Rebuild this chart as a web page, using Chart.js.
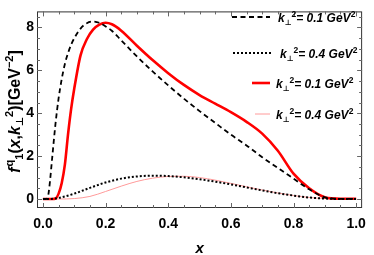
<!DOCTYPE html>
<html lang="en">
<head>
<meta charset="UTF-8">
<title>f1 TMD</title>
<script src="https://cdn.jsdelivr.net/npm/chart.js"></script>
<style>
  body { margin: 0; background: #fff; }
  #wrap { width: 374px; height: 255px; }
</style>
</head>
<body>
<div id="wrap"><canvas id="chart"></canvas></div>
<script>
// k_perp^2 = 0.1 GeV^2 curves
const xFine = [0, 0.01, 0.015, 0.02, 0.03, 0.04, 0.05, 0.06, 0.07, 0.08, 0.09, 0.1, 0.12, 0.14, 0.16, 0.18, 0.2, 0.22, 0.25, 0.3, 0.35, 0.4, 0.45, 0.5, 0.55, 0.6, 0.65, 0.7, 0.75, 0.8, 0.85, 0.9, 0.95, 1.0];
const dashedK01 = [0, 0, 0.05, 0.5, 2.0, 3.5, 4.7, 5.6, 6.3, 6.8, 7.2, 7.5, 7.95, 8.2, 8.28, 8.22, 8.05, 7.85, 7.4, 6.65, 5.95, 5.3, 4.68, 4.1, 3.55, 3.0, 2.5, 1.95, 1.45, 0.95, 0.45, 0.08, 0.01, 0.01];
const redK01 = [0, 0, 0, 0, 0, 0.02, 0.25, 0.75, 1.6, 3.0, 4.2, 5.15, 6.7, 7.45, 7.9, 8.13, 8.22, 8.15, 7.85, 7.15, 6.48, 5.87, 5.32, 4.85, 4.45, 4.05, 3.6, 3.05, 2.25, 1.18, 0.5, 0.08, 0.01, 0.01];

// k_perp^2 = 0.4 GeV^2 curves
const xCoarse = [0, 0.02, 0.05, 0.1, 0.15, 0.2, 0.25, 0.3, 0.35, 0.4, 0.45, 0.5, 0.55, 0.6, 0.65, 0.7, 0.75, 0.8, 0.85, 0.9, 0.95, 1.0];
const dottedK04 = [0, 0, 0.05, 0.25, 0.52, 0.77, 0.95, 1.05, 1.09, 1.07, 1.01, 0.92, 0.81, 0.68, 0.54, 0.4, 0.27, 0.16, 0.07, 0.02, 0, 0];
const pinkK04 = [0, 0, 0, 0.02, 0.12, 0.35, 0.6, 0.82, 0.97, 1.05, 1.06, 1.0, 0.88, 0.73, 0.57, 0.42, 0.28, 0.16, 0.07, 0.02, 0, 0];

const xTickValues = [0, 0.2, 0.4, 0.6, 0.8, 1.0];
const yTickValues = [0, 2, 4, 6, 8];
const legendValues = ['0.1', '0.4', '0.1', '0.4'];

const FONT = '"Liberation Sans", "DejaVu Sans", Arial, sans-serif';

function pts(xs, ys) {
    return xs.map((x, i) => ({ x: x, y: ys[i] }));
}

function setFont(ctx, s) {
    ctx.font = (s.italic ? 'italic ' : '') + 'bold ' + s.size + 'px ' + FONT;
}

function richWidth(ctx, segs) {
    let w = 0;
    segs.forEach(s => { setFont(ctx, s); w += ctx.measureText(s.t).width + (s.gap || 0); });
    return w;
}

function drawRich(ctx, segs, x, y) {
    let cx = x;
    segs.forEach(s => {
        setFont(ctx, s);
        ctx.fillText(s.t, cx, y + (s.dy || 0));
        cx += ctx.measureText(s.t).width + (s.gap || 0);
    });
}

const legendItems = [
    { y: 17, x1: 232, x2: 270, tx: 278, color: '#000', width: 1.8, dash: [5, 3.5] },
    { y: 53, x1: 233, x2: 271, tx: 280, color: '#000', width: 2, dash: [2, 2] },
    { y: 83, x1: 252, x2: 270, tx: 276, color: '#ff0000', width: 2.6, dash: [] },
    { y: 114, x1: 255, x2: 270, tx: 276, color: '#ff9a9a', width: 1, dash: [] }
];

const framePlugin = {
    id: 'framePlugin',
    afterDatasetsDraw(chart) {
        const ctx = chart.ctx;
        const a = chart.chartArea;
        const xs = chart.scales.x, ys = chart.scales.y;
        ctx.save();
        ctx.strokeStyle = '#333';
        ctx.lineWidth = 1;
        ctx.strokeRect(a.left + 0.5, a.top + 0.5, a.right - a.left - 1, a.bottom - a.top - 1);
        ctx.strokeStyle = '#666';
        ctx.beginPath();
        for (let i = 0; i <= 20; i++) {
            const px = Math.round(xs.getPixelForValue(i * 0.05)) + 0.5;
            const len = i % 4 === 0 ? 5 : 3;
            ctx.moveTo(px, a.bottom); ctx.lineTo(px, a.bottom - len);
            ctx.moveTo(px, a.top); ctx.lineTo(px, a.top + len);
        }
        for (let i = 0; i <= 17; i++) {
            const py = Math.round(ys.getPixelForValue(i * 0.5)) + 0.5;
            const len = i % 4 === 0 ? 5 : 3;
            ctx.moveTo(a.left, py); ctx.lineTo(a.left + len, py);
            ctx.moveTo(a.right, py); ctx.lineTo(a.right - len, py);
        }
        ctx.stroke();
        ctx.restore();
    },
    afterDraw(chart) {
        const ctx = chart.ctx;
        ctx.save();
        ctx.fillStyle = '#000';
        ctx.textBaseline = 'alphabetic';

        // legend
        legendItems.forEach((it, i) => {
            ctx.strokeStyle = it.color;
            ctx.lineWidth = it.width;
            ctx.setLineDash(it.dash);
            ctx.beginPath();
            ctx.moveTo(it.x1, it.y);
            ctx.lineTo(it.x2, it.y);
            ctx.stroke();
            ctx.setLineDash([]);
            drawRich(ctx, [
                { t: 'k', size: 12, italic: true },
                { t: '\u22A5', size: 7.5, dy: 3 },
                { t: '2', size: 8.5, dy: -5 },
                { t: '= ' + legendValues[i] + ' GeV', size: 12, italic: true },
                { t: '2', size: 8.5, dy: -5 }
            ], it.tx, it.y + 4.5);
        });

        // y axis title
        const segs = [
            { t: 'f', size: 16, italic: true, gap: 1 },
            { t: 'q', size: 11, dy: -7 },
            { t: '1', size: 11, dy: 3 },
            { t: '(', size: 16 },
            { t: 'x', size: 16, italic: true },
            { t: ',', size: 16 },
            { t: 'k', size: 16, italic: true },
            { t: '\u22A5', size: 10, dy: 3 },
            { t: '2', size: 11, dy: -7 },
            { t: ')[GeV', size: 16 },
            { t: '\u22122', size: 11, dy: -7 },
            { t: ']', size: 16 }
        ];
        const w = richWidth(ctx, segs);
        ctx.translate(20, 111.5);
        ctx.rotate(-Math.PI / 2);
        drawRich(ctx, segs, -w / 2, 0);
        ctx.restore();
    }
};

const ctx = document.getElementById('chart').getContext('2d');
new Chart(ctx, {
    type: 'line',
    data: {
        datasets: [
            { label: 'k2=0.1 dashed', data: pts(xFine, dashedK01), borderColor: '#000', borderWidth: 1.8, borderDash: [5, 3.5], order: 0 },
            { label: 'k2=0.4 dotted', data: pts(xCoarse, dottedK04), borderColor: '#000', borderWidth: 2, borderDash: [2, 2], order: 1 },
            { label: 'k2=0.1 solid', data: pts(xFine, redK01), borderColor: '#ff0000', borderWidth: 2.6, order: 2 },
            { label: 'k2=0.4 thin', data: pts(xCoarse, pinkK04), borderColor: '#ff9a9a', borderWidth: 1, order: 3 }
        ]
    },
    options: {
        responsive: true,
        maintainAspectRatio: false,
        animation: false,
        layout: { padding: { top: 3, right: 6, left: 0, bottom: 0 } },
        elements: {
            point: { radius: 0 },
            line: { cubicInterpolationMode: 'monotone', fill: false }
        },
        plugins: { legend: { display: false }, tooltip: { enabled: false } },
        scales: {
            x: {
                type: 'linear',
                min: -0.019,
                max: 1.019,
                grid: { display: false, drawTicks: false },
                border: { display: false },
                afterBuildTicks: s => { s.ticks = xTickValues.map(v => ({ value: v })); },
                afterFit: s => { s.height = 47; },
                ticks: {
                    padding: 8,
                    color: '#000',
                    font: { family: FONT, size: 14, weight: 'bold' },
                    callback: v => v.toFixed(1)
                },
                title: {
                    display: true,
                    text: 'x',
                    color: '#000',
                    padding: { top: 0, bottom: -3 },
                    font: { family: FONT, size: 15, weight: 'bold', style: 'italic' }
                }
            },
            y: {
                min: -0.42,
                max: 8.75,
                grid: { display: false, drawTicks: false },
                border: { display: false },
                afterBuildTicks: s => { s.ticks = yTickValues.map(v => ({ value: v })); },
                afterFit: s => { s.width = 37; },
                ticks: {
                    padding: 3,
                    color: '#000',
                    font: { family: FONT, size: 14, weight: 'bold' },
                    callback: v => String(v)
                }
            }
        }
    },
    plugins: [framePlugin]
});
</script>
</body>
</html>
